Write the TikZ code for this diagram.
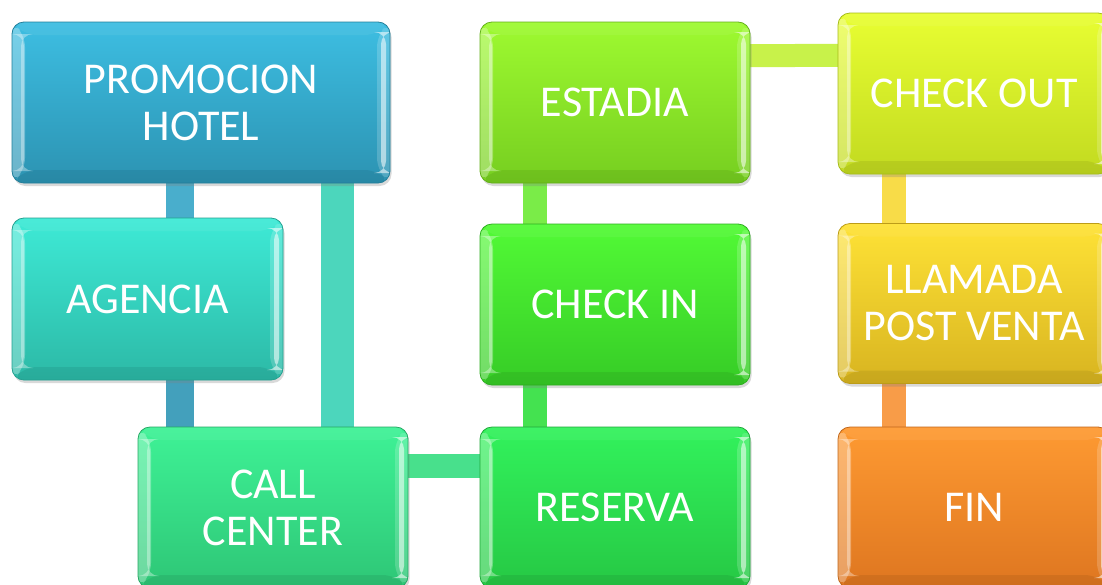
\documentclass[tikz,border=0pt]{standalone}
\usepackage{fontspec}
\setmainfont{Carlito}
\usetikzlibrary{shadows}
\pgfdeclarelayer{background}
\pgfsetlayers{background,main}
\definecolor{pT}{HTML}{3DBEE2}\definecolor{pB}{HTML}{2C93B2}\definecolor{pE}{HTML}{237F9A}
\definecolor{aT}{HTML}{3EEAD6}\definecolor{aB}{HTML}{2CB9A6}\definecolor{aE}{HTML}{24A090}
\definecolor{cT}{HTML}{3EF296}\definecolor{cB}{HTML}{2EC676}\definecolor{cE}{HTML}{26A864}
\definecolor{rT}{HTML}{32F25C}\definecolor{rB}{HTML}{26C844}\definecolor{rE}{HTML}{20A83A}
\definecolor{iT}{HTML}{52FA36}\definecolor{iB}{HTML}{36CC26}\definecolor{iE}{HTML}{2EAE20}
\definecolor{eT}{HTML}{9EFA30}\definecolor{eB}{HTML}{76CE20}\definecolor{eE}{HTML}{64B01A}
\definecolor{oT}{HTML}{E8FE32}\definecolor{oB}{HTML}{C2DA20}\definecolor{oE}{HTML}{A6BC18}
\definecolor{lT}{HTML}{FEE236}\definecolor{lB}{HTML}{D8B420}\definecolor{lE}{HTML}{BC9C18}
\definecolor{fT}{HTML}{FE9A32}\definecolor{fB}{HTML}{DE7620}\definecolor{fE}{HTML}{C0661A}
\definecolor{k1}{HTML}{49AECC}\definecolor{k2}{HTML}{4CD6BC}\definecolor{k3}{HTML}{48E08C}
\definecolor{k4}{HTML}{44E250}\definecolor{k5}{HTML}{7AEC48}\definecolor{k6}{HTML}{C8F24A}
\definecolor{k7}{HTML}{F8DC48}\definecolor{k8}{HTML}{F89C48}
\tikzset{
  bx/.style n args={3}{rectangle, rounded corners=12pt, top color=#1, bottom color=#2,
    draw=#3, line width=0.8pt, text=white, align=center,
    font=\fontsize{44}{47}\selectfont,
    drop shadow={shadow xshift=1.5pt, shadow yshift=-3pt, opacity=0.3},
    path picture={
      \fill[white, opacity=0.30] (path picture bounding box.north west) -- ++(13pt,-13pt)
        -- ([shift={(13pt,13pt)}]path picture bounding box.south west) -- (path picture bounding box.south west) -- cycle;
      \fill[white, opacity=0.35] ([shift={(9pt,-12pt)}]path picture bounding box.north west) rectangle ([shift={(12pt,12pt)}]path picture bounding box.south west);
      \fill[white, opacity=0.18] (path picture bounding box.north east) -- ++(-13pt,-13pt)
        -- ([shift={(-13pt,13pt)}]path picture bounding box.south east) -- (path picture bounding box.south east) -- cycle;
      \fill[white, opacity=0.55] ([shift={(-9pt,-10pt)}]path picture bounding box.north east) rectangle ([shift={(-4pt,10pt)}]path picture bounding box.south east);
      \fill[white, opacity=0.06] (path picture bounding box.north west) -- (path picture bounding box.north east)
        -- ++(-13pt,-13pt) -- ([shift={(13pt,-13pt)}]path picture bounding box.north west) -- cycle;
      \fill[black, opacity=0.07] (path picture bounding box.south west) -- (path picture bounding box.south east)
        -- ++(-13pt,13pt) -- ([shift={(13pt,13pt)}]path picture bounding box.south west) -- cycle;
    }},
  conn/.style={line width=#1, line cap=butt},
}
\begin{document}
\begin{tikzpicture}[x=1pt,y=-1pt]
\useasboundingbox (0,0) rectangle (1102,584);
\clip (0,0) rectangle (1102,584);
\node[bx={pT}{pB}{pE}, minimum width=378pt, minimum height=161pt] (promo) at (201,102.5) {PROMOCION\\HOTEL};
\node[bx={aT}{aB}{aE}, minimum width=271pt, minimum height=162pt] (agencia) at (147.5,299) {AGENCIA};
\node[bx={cT}{cB}{cE}, minimum width=270pt, minimum height=161pt] (call) at (273,507.5) {CALL\\CENTER};
\node[bx={rT}{rB}{rE}, minimum width=270pt, minimum height=161pt] (reserva) at (615,507.5) {RESERVA};
\node[bx={iT}{iB}{iE}, minimum width=270pt, minimum height=161pt] (checkin) at (615,304.5) {CHECK IN};
\node[bx={eT}{eB}{eE}, minimum width=270pt, minimum height=161pt] (estadia) at (615,102.5) {ESTADIA};
\node[bx={oT}{oB}{oE}, minimum width=272pt, minimum height=161pt] (checkout) at (974,93.5) {CHECK OUT};
\node[bx={lT}{lB}{lE}, minimum width=272pt, minimum height=160pt] (llamada) at (974,303.5) {LLAMADA\\POST VENTA};
\node[bx={fT}{fB}{fE}, minimum width=272pt, minimum height=161pt] (fin) at (974,507.5) {FIN};
\coordinate (xa) at (179.5,0);
\coordinate (xb) at (337.5,0);
\coordinate (yc) at (0,466);
\coordinate (xd) at (535,0);
\coordinate (ye1) at (0,56.5);
\coordinate (ye2) at (0,54.5);
\coordinate (xf) at (894,0);
\begin{pgfonlayer}{background}
\draw[conn=28pt, k1] (promo.center -| xa) -- (agencia.center -| xa);
\draw[conn=28pt, k1!92!black] (agencia.center -| xa) -- (call.center -| xa);
\draw[conn=33pt, k2] (promo.center -| xb) -- (call.center -| xb);
\draw[conn=24pt, k3] (call.center |- yc) -- (reserva.center |- yc);
\draw[conn=24pt, k4] (reserva.center -| xd) -- (checkin.center -| xd);
\draw[conn=24pt, k5] (checkin.center -| xd) -- (estadia.center -| xd);
\draw[conn=23pt, k6] (estadia.center |- ye1) -- (checkout.center |- ye2);
\draw[conn=24pt, k7] (checkout.center -| xf) -- (llamada.center -| xf);
\draw[conn=24pt, k8] (llamada.center -| xf) -- (fin.center -| xf);
\end{pgfonlayer}
\end{tikzpicture}
\end{document}
